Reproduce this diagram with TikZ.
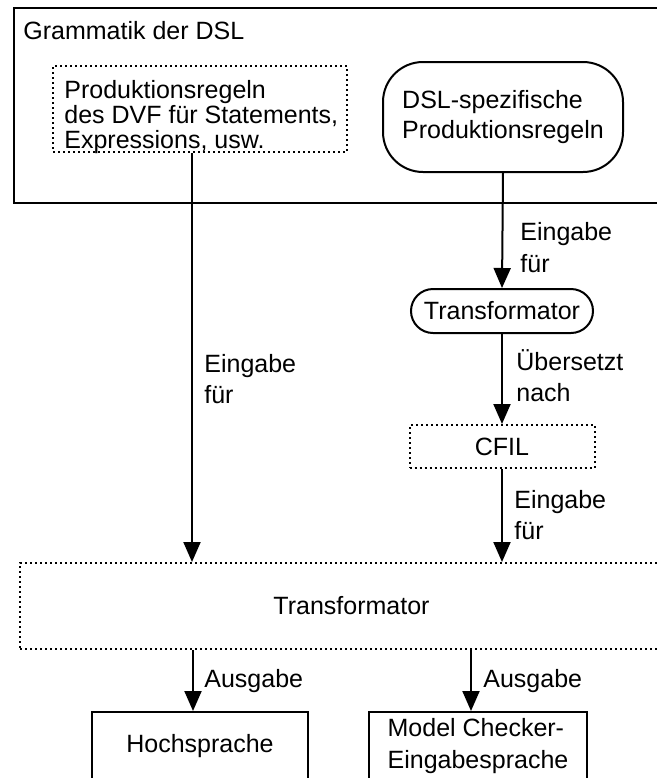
\documentclass[tikz,border=0pt]{standalone}
\usepackage{fontspec}
\setmainfont{Liberation Sans}
\usetikzlibrary{arrows.meta,positioning}

\begin{document}
\begin{tikzpicture}[x=0.5pt, y=-0.5pt,
        every node/.style={font=\fontsize{12.5pt}{15pt}\selectfont},
        solidbox/.style={draw, line width=1pt, rectangle, inner sep=0pt},
        dotbox/.style={draw, line width=1pt, dash pattern=on 1pt off 1.5pt, rectangle, inner sep=0pt},
        roundbox/.style={draw, line width=1pt, rounded corners=#1, inner sep=0pt},
        roundbox/.default=20pt,
        flow/.style={-{Triangle[length=10pt,width=8.5pt]}, line width=1pt},
        lbl/.style={anchor=base west, align=left, inner sep=0pt}]

        \clip (0,0) rectangle (657,778);

        % Grammatik
        \node[solidbox, anchor=north west, minimum width=343.5pt, minimum height=97.5pt] (gram) at (13,7) {};
        \node[anchor=base west, inner sep=0pt] (gramtitle) at (23,39) {Grammatik der DSL};

        \node[dotbox, minimum width=147pt, minimum height=43pt] (dvf) at (200,109) {};
        \node[lbl, font=\fontsize{12.5pt}{12.5pt}\selectfont] (dvftext) at (64,148)
              {Produktionsregeln\\des DVF für Statements,\\Expressions, usw.};
        \node[roundbox, minimum width=120pt, minimum height=55pt, align=left] (dslregeln) at (503,117)
              {DSL-spezifische\\Produktionsregeln};

        % rechter Zweig
        \node[roundbox=11pt, minimum width=91pt, minimum height=22pt] (trafoklein) at (502,311) {Transformator};
        \node[dotbox, minimum width=92.5pt, minimum height=21.5pt] (cfil) at (502,446.5) {CFIL};

        % Transformator
        \node[dotbox, minimum width=331.5pt, minimum height=43pt] (trafo) at (351.5,606) {Transformator};

        % Ausgaben
        \node[solidbox, minimum width=108pt, minimum height=34pt] (hoch) at (200,746) {Hochsprache};
        \node[solidbox, minimum width=109pt, minimum height=34pt, align=left,
              font=\fontsize{12.5pt}{16pt}\selectfont] (mcsprache) at (478,746)
              {Model Checker-\\Eingabesprache};

        \draw[flow] ([xshift=-4pt]dvf.south) -- ([xshift=-4pt]dvf.south |- trafo.north);
        \draw[flow] (dslregeln.south) -- (trafoklein.north);
        \draw[flow] (trafoklein.south) -- (cfil.north);
        \draw[flow] (cfil.south) -- (cfil.south |- trafo.north);
        \draw[flow] ([xshift=-3.5pt]hoch.north |- trafo.south) -- ([xshift=-3.5pt]hoch.north);
        \draw[flow] ([xshift=-3.5pt]mcsprache.north |- trafo.south) -- ([xshift=-3.5pt]mcsprache.north);

        % Beschriftungen (base = letzte Zeile)
        \node[lbl, font=\fontsize{12.5pt}{15.5pt}\selectfont] (eingabe1) at (204,403) {Eingabe\\für};
        \node[lbl, font=\fontsize{12.5pt}{16pt}\selectfont] (eingabe2) at (520,272) {Eingabe\\für};
        \node[lbl, font=\fontsize{12.5pt}{15.5pt}\selectfont] (uebersetzt) at (516,401) {Übersetzt\\nach};
        \node[lbl, font=\fontsize{12.5pt}{15.5pt}\selectfont] (eingabe3) at (514,539) {Eingabe\\für};
        \node[lbl] (ausgabe1) at (204,687) {Ausgabe};
        \node[lbl] (ausgabe2) at (483,687) {Ausgabe};
    \end{tikzpicture}
\end{document}
